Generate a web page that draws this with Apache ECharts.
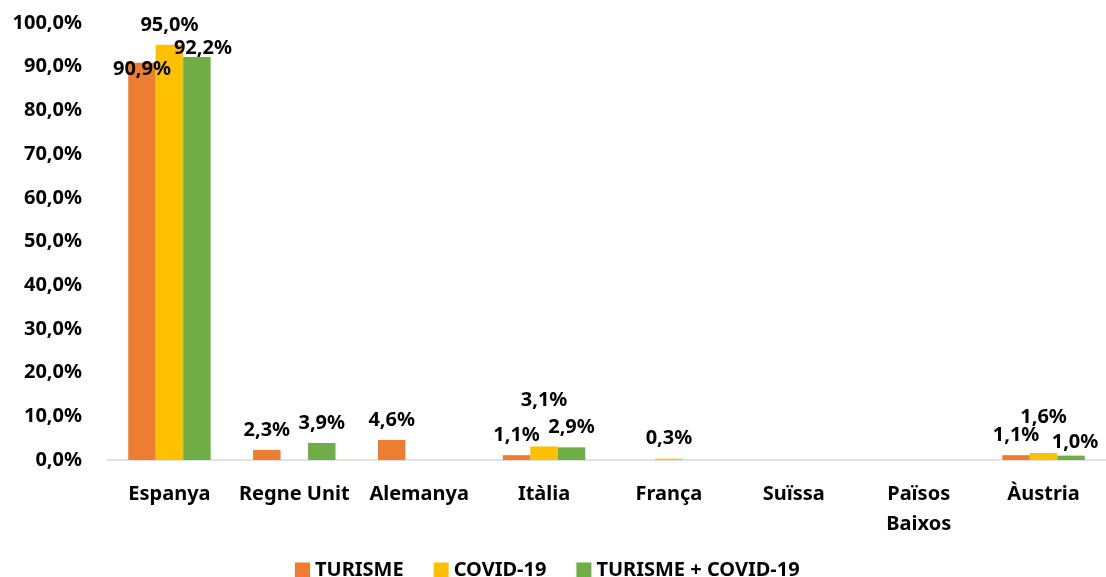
<!DOCTYPE html>
<html>
<head>
<meta charset="utf-8">
<script src="https://cdn.jsdelivr.net/npm/echarts@6/dist/echarts.min.js"></script>
<style>html,body{margin:0;padding:0;background:#fff}#c{width:1106px;height:577px}</style>
</head>
<body>
<div id="c"></div>
<script>
const categories = ['Espanya', 'Regne Unit', 'Alemanya', 'Itàlia', 'França', 'Suïssa', 'Països Baixos', 'Àustria'];
const seriesNames = ['TURISME', 'COVID-19', 'TURISME + COVID-19'];
const turisme = [90.9, 2.3, 4.6, 1.1, null, null, null, 1.1];
const covid = [95.0, null, null, 3.1, 0.3, null, null, 1.6];
const turismeCovid = [92.2, 3.9, null, 2.9, null, null, null, 1.0];
const yTicks = { min: 0, max: 100, interval: 10 };

const colors = ['#ED7D31', '#FFC000', '#70AD47'];
// label nudges (series index -> category index -> [dx, dy]) to mimic the original placement
const labelNudge = {
  0: { 0: [0, 27] },
  1: { 3: [0, -26], 7: [0, -16] },
  2: { 0: [6, 11], 7: [4, 7] }
};
const fmt = v => v.toFixed(1).replace('.', ',') + '%';
const FONT = '"Noto Sans", "Open Sans", sans-serif';

function buildSeries(name, values, idx) {
  return {
    name: name,
    type: 'bar',
    barGap: '0%',
    barCategoryGap: '34%',
    itemStyle: { color: colors[idx] },
    label: {
      show: true, position: 'top', distance: 10,
      fontFamily: FONT, fontWeight: 'bold', fontSize: 20, color: '#000',
      formatter: p => fmt(p.value)
    },
    data: values.map((v, i) => {
      if (v === null) return null;
      const n = labelNudge[idx] && labelNudge[idx][i];
      return n ? { value: v, label: { offset: n } } : v;
    })
  };
}

const chart = echarts.init(document.getElementById('c'));
chart.setOption({
  animation: false,
  textStyle: { fontFamily: FONT },
  grid: { left: 107, right: 0, top: 23, bottom: 117, containLabel: false },
  legend: {
    left: 290, top: 555,
    itemWidth: 15, itemHeight: 15, itemGap: 30,
    icon: 'rect',
    textStyle: { fontFamily: FONT, fontWeight: 'bold', fontSize: 20, color: '#000' },
    data: seriesNames
  },
  xAxis: {
    type: 'category',
    data: categories,
    axisLine: { lineStyle: { color: '#d9d9d9', width: 1.5 } },
    axisTick: { show: false },
    axisLabel: {
      interval: 0, margin: 19, lineHeight: 30,
      fontFamily: FONT, fontWeight: 'bold', fontSize: 20, color: '#000',
      formatter: v => v === 'Països Baixos' ? 'Països\nBaixos' : v
    }
  },
  yAxis: {
    type: 'value',
    min: yTicks.min, max: yTicks.max, interval: yTicks.interval,
    splitLine: { show: false },
    axisLine: { show: false },
    axisTick: { show: false },
    axisLabel: {
      margin: 25, fontFamily: FONT, fontWeight: 'bold', fontSize: 20, color: '#000',
      formatter: v => fmt(v)
    }
  },
  series: [
    buildSeries(seriesNames[0], turisme, 0),
    buildSeries(seriesNames[1], covid, 1),
    buildSeries(seriesNames[2], turismeCovid, 2)
  ]
});
</script>
</body>
</html>
